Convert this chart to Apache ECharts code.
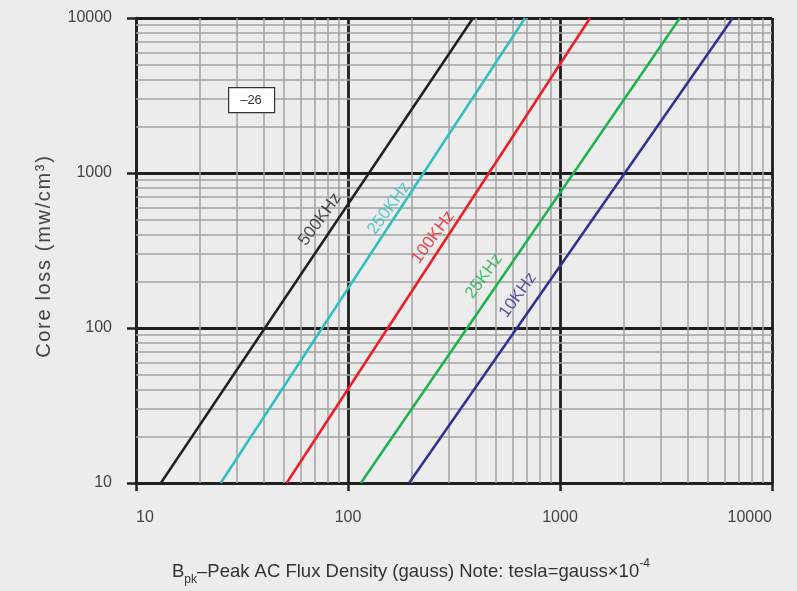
<!DOCTYPE html>
<html><head><meta charset="utf-8">
<script src="https://cdn.jsdelivr.net/npm/echarts@6/dist/echarts.min.js"></script>
<style>html,body{margin:0;background:#ececec}#c{width:797px;height:591px}</style>
</head><body><div id="c"></div>
<script>
// Curves: straight lines on log-log; flux (gauss) at core loss 10 and 10000 mW/cm3
const freqNames = ['500KHz', '250KHz', '100KHz', '25KHz', '10KHz'];
const fluxAtLossMin = [13.1, 25.1, 51.4, 115, 194];
const fluxAtLossMax = [389, 684, 1387, 3680, 6530];
const lossRange = [10, 10000];
// label anchors (data space)
const labelFlux = [73.8, 156, 252, 438, 634];
const labelLoss = [502, 591, 385, 216, 163];
const xMinorGrid = [20,30,40,50,60,70,80,90,200,300,400,500,600,700,800,900,2000,3000,4000,5000,6000,7000,8000,9000];
const yMinorGrid = [20,30,40,50,60,70,80,90,200,300,400,500,600,700,800,900,2000,3000,4000,5000,6000,7000,8000,9000];
const gradeText = '\u201326';
const yTitle = 'Core loss (mw/cm\u00b3)';

const colors = ['#231f20', '#2fbfbf', '#ee1c24', '#1cb34b', '#2e3192'];
const FONT = 'Liberation Sans';

const chart = echarts.init(document.getElementById('c'));
const series = [];
series.push({
  type: 'line', data: [], z: 1, silent: true, animation: false,
  markLine: {
    silent: true, symbol: ['none', 'none'], label: { show: false }, animation: false,
    lineStyle: { color: '#a3a3a3', width: 1.5, type: 'solid' },
    data: xMinorGrid.map(v => ({ xAxis: v })).concat(yMinorGrid.map(v => ({ yAxis: v })))
  }
});
freqNames.forEach((name, i) => {
  series.push({
    type: 'line', name, z: 5, animation: false, symbol: 'none',
    lineStyle: { color: colors[i], width: 2.5 },
    data: [[fluxAtLossMin[i], lossRange[0]], [fluxAtLossMax[i], lossRange[1]]]
  });
  series.push({
    type: 'scatter', z: 6, animation: false, symbolSize: 0,
    data: [[labelFlux[i], labelLoss[i]]],
    label: { show: true, position: 'inside', rotate: 54, formatter: name,
      color: colors[i], fontSize: 17, fontFamily: FONT }
  });
});

const spaced = yTitle.split('').join('\u200A');

chart.setOption({
  backgroundColor: '#ececec',
  animation: false,
  grid: { left: 136, right: 25, top: 18, bottom: 108 },
  xAxis: {
    type: 'log', logBase: 10, min: 10, max: 10000,
    axisLine: { lineStyle: { color: '#222', width: 2.5 } },
    axisTick: { show: true, length: 8, lineStyle: { color: '#222', width: 2.5 } },
    axisLabel: { margin: 27, color: '#444', fontSize: 16, fontFamily: FONT, alignMinLabel: 'left', alignMaxLabel: 'right',
      formatter: v => String(Math.round(v)) },
    splitLine: { show: true, lineStyle: { color: '#1e1e1e', width: 2.8 } },
    minorTick: { show: false }
  },
  yAxis: {
    type: 'log', logBase: 10, min: 10, max: 10000,
    axisLine: { lineStyle: { color: '#222', width: 2.5 } },
    axisTick: { show: true, length: 9, lineStyle: { color: '#222', width: 2.5 } },
    axisLabel: { margin: 24, color: '#444', fontSize: 16, fontFamily: FONT,
      formatter: v => String(Math.round(v)) },
    splitLine: { show: true, lineStyle: { color: '#1e1e1e', width: 2.8 } }
  },
  graphic: [
    { type: 'rect', left: 228, top: 87, shape: { width: 46, height: 25 },
      style: { fill: '#fff', stroke: '#333', lineWidth: 1.2 }, z: 10 },
    { type: 'text', x: 251, y: 100, z: 11,
      style: { text: gradeText, fill: '#333', font: '13px "Liberation Sans"', align: 'center', verticalAlign: 'middle' } },
    { type: 'text', x: 44, y: 257, rotation: Math.PI / 2, z: 11,
      style: { text: spaced, fill: '#444', font: '20px "Liberation Sans"', align: 'center', verticalAlign: 'middle' } },
    { type: 'text', left: 172, top: 558, z: 11,
      style: {
        text: '{m|B}{s|pk}{m|\u2013Peak AC Flux Density (gauss) Note: tesla=gauss\u00d710}{u|-4}',
        rich: {
          m: { fontSize: 18.5, fontFamily: FONT, fill: '#333', lineHeight: 28, verticalAlign: 'middle' },
          s: { fontSize: 12, fontFamily: FONT, fill: '#333', lineHeight: 28, verticalAlign: 'bottom' },
          u: { fontSize: 12, fontFamily: FONT, fill: '#333', lineHeight: 28, verticalAlign: 'top' }
        }
      } }
  ],
  series
});
</script></body></html>
